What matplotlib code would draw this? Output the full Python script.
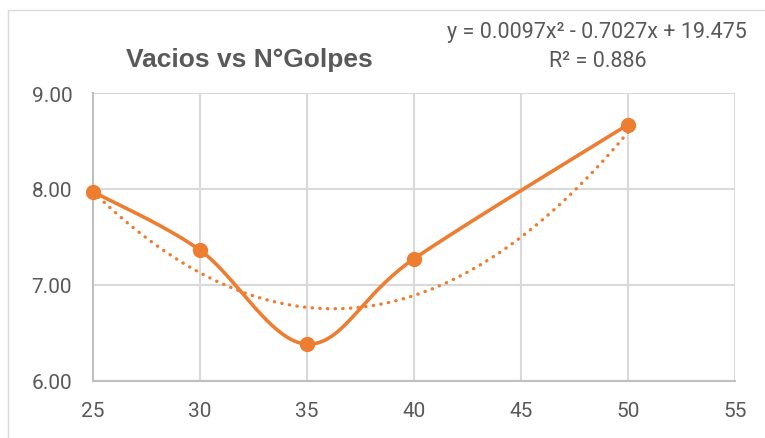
import numpy as np
import matplotlib
matplotlib.use("Agg")
import matplotlib.pyplot as plt
from matplotlib.patches import Rectangle

# Data
golpes = [25, 30, 35, 40, 50]
vacios = [7.97, 7.36, 6.38, 7.27, 8.67]
coef = [0.0097, -0.7027, 19.475]  # quadratic trendline a, b, c
r2 = 0.886
x_ticks = [25, 30, 35, 40, 45, 50, 55]
y_ticks = [6.0, 7.0, 8.0, 9.0]

orange = "#ED7D31"
text_gray = "#595959"
grid_gray = "#D9D9D9"
font = "Roboto"
title_font = "Liberation Sans"


def smooth_curve(x, y, n=60):
    """Spreadsheet-style smoothed line: cubic Bezier segments with
    Catmull-Rom control points."""
    x = np.asarray(x, float)
    y = np.asarray(y, float)
    px = np.concatenate([[x[0]], x, [x[-1]]])
    py = np.concatenate([[y[0]], y, [y[-1]]])
    xs, ys = [], []
    t = np.linspace(0, 1, n)
    for i in range(1, len(px) - 2):
        p0 = np.array([px[i], py[i]])
        p3 = np.array([px[i + 1], py[i + 1]])
        c1 = p0 + (np.array([px[i + 1], py[i + 1]]) - np.array([px[i - 1], py[i - 1]])) / 6
        c2 = p3 - (np.array([px[i + 2], py[i + 2]]) - np.array([px[i], py[i]])) / 6
        b = ((1 - t) ** 3)[:, None] * p0 + (3 * (1 - t) ** 2 * t)[:, None] * c1 \
            + (3 * (1 - t) * t ** 2)[:, None] * c2 + (t ** 3)[:, None] * p3
        xs.append(b[:, 0])
        ys.append(b[:, 1])
    return np.concatenate(xs), np.concatenate(ys)


fig = plt.figure(figsize=(7.65, 4.39), dpi=100)
fig.patch.set_facecolor("white")

# chart-area border
fig.patches.append(Rectangle((8 / 765, -0.01), 1.0, (439 - 11) / 439 + 0.01,
                             transform=fig.transFigure, fill=False,
                             edgecolor=grid_gray, linewidth=1.0))

ax = fig.add_axes([93 / 765, (439 - 381.5) / 439, (735 - 93) / 765, (381.5 - 94) / 439])
ax.set_xlim(25, 55)
ax.set_ylim(6, 9)
ax.set_xticks(x_ticks)
ax.set_yticks(y_ticks)
ax.set_xticklabels([str(v) for v in x_ticks])
ax.set_yticklabels([f"{v:.2f}" for v in y_ticks])
ax.grid(True, color=grid_gray, linewidth=1.5, zorder=0)
ax.set_axisbelow(True)
for s in ["top", "right"]:
    ax.spines[s].set_visible(False)
for s in ["left", "bottom"]:
    ax.spines[s].set_color("#BFBFBF")
    ax.spines[s].set_linewidth(1.5)
ax.tick_params(axis="both", length=0, labelsize=15, labelcolor=text_gray)
ax.tick_params(axis="y", pad=15)
ax.tick_params(axis="x", pad=15)
for lab in ax.get_xticklabels() + ax.get_yticklabels():
    lab.set_fontfamily(font)

# smoothed series
sx, sy = smooth_curve(golpes, vacios)
ax.plot(sx, sy, color=orange, linewidth=2.6, solid_capstyle="round", zorder=3, clip_on=False)
ax.plot(golpes, vacios, linestyle="none", marker="o", markersize=10,
        color=orange, zorder=4, clip_on=False)

# polynomial trendline
tx = np.linspace(min(golpes), max(golpes), 200)
ty = np.polyval(coef, tx)
ax.plot(tx, ty, color=orange, linewidth=2.4, linestyle=(0, (0.1, 2.2)),
        dash_capstyle="round", zorder=3)

fig.text(249 / 765, 1 - 66.7 / 439, "Vacios vs N°Golpes", ha="center", va="baseline",
         fontsize=19, fontweight="bold", color=text_gray, fontfamily=title_font)
fig.text(747 / 765, 1 - 38.3 / 439,
         f"y = {coef[0]}x² - {abs(coef[1])}x + {coef[2]}",
         ha="right", va="baseline", fontsize=15.5, color=text_gray, fontfamily=font)
fig.text(598 / 765, 1 - 66.7 / 439, f"R² = {r2}", ha="center", va="baseline",
         fontsize=15.5, color=text_gray, fontfamily=font)

fig.savefig("out.png", dpi=100)
